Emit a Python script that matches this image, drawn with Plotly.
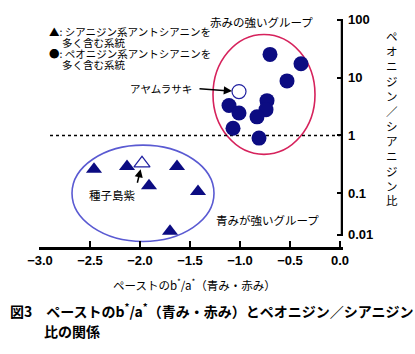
import numpy as np
import plotly.graph_objects as go

# ---- data ----
peo_x = [-0.70, -0.39, -0.53, -0.73, -1.11, -1.01, -0.74, -0.83, -1.07, -0.81]
peo_y = [25.3, 17.4, 8.8, 4.0, 3.3, 2.45, 2.8, 2.1, 1.33, 0.90]
ayam_x = [-1.01]
ayam_y = [5.75]
cya_x = [-2.46, -2.13, -1.63, -1.91, -1.42, -1.70]
cya_y = [0.26, 0.29, 0.29, 0.135, 0.107, 0.022]
tane_x = [-1.98]
tane_y = [0.33]

x_ticks = [-3.0, -2.5, -2.0, -1.5, -1.0, -0.5, 0.0]
y_tickvals = [100, 10, 1, 0.1, 10 ** -1.715]
y_ticktext = ["100", "10", "1", "0.1", "0.01"]

red_group_x = [-1.27, -0.25]
red_group_y = [0.47, 56]
blue_group_x = [-2.68, -1.26]
blue_group_y = [0.0146, 0.68]

NAVY = "#0c0c82"
JP = "Noto Sans CJK JP"
LAT = "Liberation Sans"

fig = go.Figure()

# dotted reference line at ratio = 1
fig.add_trace(go.Scatter(x=[-2.9, 0.0], y=[1, 1], mode="lines",
                         line=dict(color="black", width=1.6, dash="dot"),
                         hoverinfo="skip", showlegend=False))
# y axis line
fig.add_trace(go.Scatter(x=[0.02, 0.02], y=[100, y_tickvals[-1]], mode="lines",
                         line=dict(color="black", width=2.5),
                         hoverinfo="skip", showlegend=False))

fig.add_trace(go.Scatter(x=peo_x, y=peo_y, mode="markers",
                         marker=dict(symbol="circle", size=15, color=NAVY),
                         showlegend=False))
fig.add_trace(go.Scatter(x=ayam_x, y=ayam_y, mode="markers",
                         marker=dict(symbol="circle", size=14, color="white",
                                     line=dict(color="#2020a0", width=1.2)),
                         showlegend=False))
fig.add_trace(go.Scatter(x=cya_x, y=cya_y, mode="markers",
                         marker=dict(symbol="triangle-up", size=14, color=NAVY),
                         showlegend=False))
fig.add_trace(go.Scatter(x=tane_x, y=tane_y, mode="markers",
                         marker=dict(symbol="triangle-up", size=14, color="white",
                                     line=dict(color="#2020a0", width=1.2)),
                         showlegend=False))

# group ellipses (shape coordinates are data values)
fig.add_shape(type="circle", xref="x", yref="y", layer="below",
              x0=red_group_x[0], x1=red_group_x[1],
              y0=red_group_y[0], y1=red_group_y[1],
              line=dict(color="#d6225c", width=1.6))
fig.add_shape(type="circle", xref="x", yref="y", layer="below",
              x0=blue_group_x[0], x1=blue_group_x[1],
              y0=blue_group_y[0], y1=blue_group_y[1],
              line=dict(color="#5a5ad2", width=1.6))

def txt(x, y, s, size=11, xanchor="left", weight="normal"):
    fig.add_annotation(xref="paper", yref="paper", x=x, y=y, text=s,
                       showarrow=False, xanchor=xanchor, yanchor="middle",
                       font=dict(family=JP, size=size, color="black", weight=weight))

# legend text
txt(0.0265, 0.935, "▲: シアニジン系アントシアニンを", 10.5)
txt(0.070, 0.888, "多く含む系統", 10.5)
txt(0.0265, 0.841, "●: ペオニジン系アントシアニンを", 10.5)
txt(0.070, 0.793, "多く含む系統", 10.5)

txt(0.556, 0.978, "赤みの強いグループ", 11.5)
txt(0.51, 0.69, "アヤムラサキ", 10.5, xanchor="right")
txt(0.159, 0.228, "種子島紫", 11.5)
txt(0.576, 0.116, "青みが強いグループ", 11.5)

# arrows
fig.add_annotation(x=ayam_x[0], y=np.log10(ayam_y[0]), xref="x", yref="y",
                   text="", showarrow=True, ax=-41, ay=-3, standoff=7,
                   arrowhead=2, arrowsize=1.1, arrowwidth=1.5, arrowcolor="black")
fig.add_annotation(x=tane_x[0], y=np.log10(tane_y[0]), xref="x", yref="y",
                   text="", showarrow=True, ax=-5, ay=21, standoff=6,
                   arrowhead=2, arrowsize=1.1, arrowwidth=1.5, arrowcolor="black")

# y-axis title (vertical, upright characters)
fig.add_annotation(xref="paper", yref="paper", x=1.162, y=0.5625,
                   text="<br>".join(list("ペオニジン／シアニジン比")),
                   showarrow=False, xanchor="center", yanchor="middle",
                   font=dict(family=JP, size=11.5, color="black"))

# x-axis title
fig.add_annotation(xref="paper", yref="paper", x=0.513, y=-0.164,
                   text="ペーストのb<sup>*</sup>/a<sup>*</sup>（青み・赤み）",
                   showarrow=False, xanchor="center", yanchor="middle",
                   font=dict(family=JP, size=11.5, color="black"))

# caption
txt(-0.103, -0.276, "図3　ペーストのb<sup>*</sup>/a<sup>*</sup>（青み・赤み）とペオニジン／シアニジン", 14, weight="bold")
txt(0.0099, -0.366, "比の関係", 14, weight="bold")

fig.update_layout(
    width=415, height=354,
    margin=dict(l=39, r=72, t=15, b=107),
    paper_bgcolor="white", plot_bgcolor="white",
    showlegend=False,
    xaxis=dict(range=[-3.01, 0.03], tickvals=x_ticks, tickformat=".1f",
               showline=True, linecolor="black", linewidth=2.5,
               ticks="inside", ticklen=6, tickwidth=2, tickcolor="black",
               showgrid=False, zeroline=False,
               tickfont=dict(family=LAT, size=13, color="black", weight="bold")),
    yaxis=dict(type="log", range=[-1.93, 2.05], side="right",
               tickvals=y_tickvals, ticktext=y_ticktext,
               showline=False, ticks="inside", ticklen=6, tickwidth=2,
               tickcolor="black", showgrid=False, zeroline=False,
               ticklabelstandoff=4,
               tickfont=dict(family=LAT, size=13, color="black", weight="bold")),
)

fig.write_html("out.html")
